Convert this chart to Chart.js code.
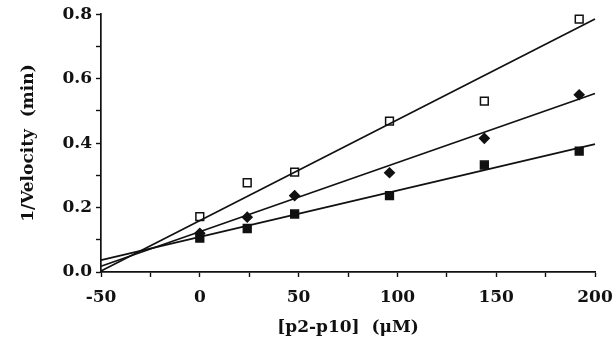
<!DOCTYPE html>
<html>
<head>
<meta charset="utf-8">
<script src="https://cdn.jsdelivr.net/npm/chart.js@4"></script>
<style>
  html, body { margin: 0; padding: 0; background: #fff; }
  #wrap { width: 616px; height: 338px; position: relative; }
</style>
</head>
<body>
<div id="wrap"><canvas id="kinetics"></canvas></div>
<script>
// substrate concentrations, [p2-p10] (uM)
const conc = [0, 24, 48, 96, 144, 192];

// 1/velocity (min) for the three inhibitor levels
const openSquares = [0.172, 0.277, 0.31, 0.468, 0.53, 0.785];
const diamonds = [0.12, 0.17, 0.237, 0.308, 0.415, 0.55];
const filledSquares = [0.105, 0.135, 0.18, 0.237, 0.332, 0.375];

// fitted lines, value at each end of the x range
const fitX = [-50, 200];
const fitOpen = [0.003, 0.785];
const fitDiamond = [0.018, 0.554];
const fitFilled = [0.037, 0.397];

const xTicks = [-50, 0, 50, 100, 150, 200];
const yTicks = [0.0, 0.2, 0.4, 0.6, 0.8];

const serif = "'DejaVu Serif', 'Liberation Serif', serif";

function pts(xs, ys) {
  return xs.map((x, i) => ({ x: x, y: ys[i] }));
}

function fitLine(ys) {
  return {
    type: "line",
    data: pts(fitX, ys),
    borderColor: "#111",
    borderWidth: 1.7,
    pointRadius: 0,
    fill: false,
    clip: false,
  };
}

function marks(ys, style, fillColor) {
  return {
    type: "scatter",
    data: pts(conc, ys),
    pointStyle: style,
    pointRadius: style === "rectRot" ? 4.8 : 5.5,
    pointBackgroundColor: fillColor,
    pointBorderColor: "#111",
    pointBorderWidth: 1.5,
    showLine: false,
    clip: false,
  };
}

new Chart(document.getElementById("kinetics"), {
  type: "scatter",
  data: {
    datasets: [
      fitLine(fitOpen),
      fitLine(fitDiamond),
      fitLine(fitFilled),
      marks(openSquares, "rect", "#fff"),
      marks(diamonds, "rectRot", "#111"),
      marks(filledSquares, "rect", "#111"),
    ],
  },
  options: {
    responsive: true,
    maintainAspectRatio: false,
    animation: false,
    layout: { padding: { top: 12, right: 21, left: 0, bottom: 0 } },
    plugins: {
      legend: { display: false },
      tooltip: { enabled: false },
    },
    scales: {
      x: {
        type: "linear",
        min: -50,
        max: 200,
        afterBuildTicks: (s) => {
          s.ticks = [];
          for (let v = -50; v <= 200; v += 25) s.ticks.push({ value: v });
        },
        border: { display: true, color: "#111", width: 1.7 },
        grid: {
          drawOnChartArea: false,
          color: "#111",
          tickLength: 5,
          tickWidth: 1.4,
        },
        ticks: {
          color: "#111",
          padding: 10,
          maxRotation: 0,
          autoSkip: false,
          font: { family: serif, size: 17, weight: "bold" },
          callback: (v) => (xTicks.includes(v) ? String(v) : ""),
        },
        title: {
          display: true,
          text: "[p2-p10]  (\u03bcM)",
          color: "#111",
          padding: { top: 0, bottom: 0 },
          font: { family: serif, size: 17, weight: "bold" },
        },
        afterFit: (s) => {
          s.height = 66;
          s.paddingLeft = 0;
          s.paddingRight = 0;
        },
      },
      y: {
        type: "linear",
        min: 0,
        max: 0.8,
        afterBuildTicks: (s) => {
          s.ticks = [];
          for (let i = 0; i <= 8; i++) s.ticks.push({ value: i / 10 });
        },
        border: { display: true, color: "#111", width: 1.7 },
        grid: {
          drawOnChartArea: false,
          color: "#111",
          tickLength: 5,
          tickWidth: 1.4,
        },
        ticks: {
          color: "#111",
          padding: 4,
          autoSkip: false,
          font: { family: serif, size: 17, weight: "bold" },
          callback: (v) => {
            const r = Math.round(v * 10) / 10;
            return yTicks.some((t) => Math.abs(t - r) < 1e-6) ? r.toFixed(1) : "";
          },
        },
        title: {
          display: true,
          text: "1/Velocity  (min)",
          color: "#111",
          padding: { top: 18, bottom: 0 },
          font: { family: serif, size: 17, weight: "bold" },
        },
        afterFit: (s) => { s.width = 101; },
      },
    },
  },
});
</script>
</body>
</html>
